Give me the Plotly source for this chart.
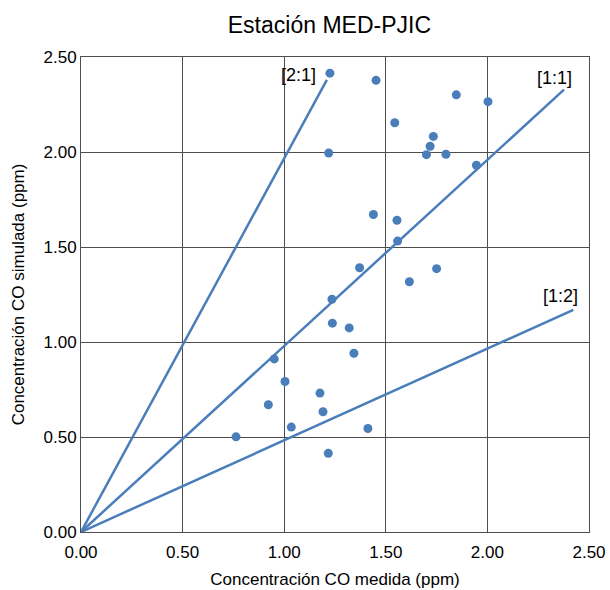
import plotly.graph_objects as go

# Measured vs simulated CO (ppm)
medida = [1.225, 1.452, 1.847, 2.003, 1.544, 1.734, 1.718, 1.700, 1.796, 1.219,
          1.946, 1.439, 1.555, 1.558, 1.371, 1.750, 1.616, 1.235, 1.237, 1.320,
          1.343, 0.951, 1.004, 1.176, 0.922, 1.191, 1.035, 1.412, 0.763, 1.217]
simulada = [2.415, 2.377, 2.301, 2.265, 2.154, 2.082, 2.030, 1.986, 1.988, 1.995,
            1.930, 1.671, 1.641, 1.531, 1.391, 1.386, 1.317, 1.225, 1.099, 1.074,
            0.941, 0.911, 0.792, 0.731, 0.670, 0.633, 0.552, 0.545, 0.501, 0.414]

# Reference lines
line_2_1_x = [0.0, 1.21]
line_2_1_y = [0.0, 2.38]
line_1_1_x = [0.0, 2.377]
line_1_1_y = [0.0, 2.328]
line_1_2_x = [0.0, 2.423]
line_1_2_y = [0.0, 1.169]

label_text = ["[2:1]", "[1:1]", "[1:2]"]
label_x = [1.07, 2.33, 2.36]
label_y = [2.40, 2.38, 1.235]

tick_vals = [0, 0.5, 1.0, 1.5, 2.0, 2.5]
tick_text = ["0.00", "0.50", "1.00", "1.50", "2.00", "2.50"]

BLUE = "#4A7EBB"
FONT = "Liberation Sans, Arial, sans-serif"

fig = go.Figure()
for lx, ly in [(line_2_1_x, line_2_1_y), (line_1_1_x, line_1_1_y), (line_1_2_x, line_1_2_y)]:
    fig.add_trace(go.Scatter(x=lx, y=ly, mode="lines",
                             line=dict(color=BLUE, width=2.5), hoverinfo="skip"))

fig.add_trace(go.Scatter(x=medida, y=simulada, mode="markers",
                         marker=dict(color=BLUE, size=9, line=dict(width=0))))

fig.add_trace(go.Scatter(x=label_x, y=label_y, mode="text", text=label_text,
                         textposition="middle center",
                         textfont=dict(family=FONT, size=18, color="#000000")))

axis_common = dict(
    range=[0, 2.5], tickvals=tick_vals, ticktext=tick_text,
    showgrid=True, gridcolor="#4d4d4d", gridwidth=1,
    showline=True, linecolor="#4d4d4d", linewidth=1, mirror=True,
    zeroline=False, automargin=False,
    tickfont=dict(family=FONT, size=17, color="#000000"),
)

fig.update_layout(
    width=610, height=590,
    margin=dict(l=81, r=21, t=57, b=58),
    paper_bgcolor="white", plot_bgcolor="white",
    showlegend=False,
    title=dict(text="Estación MED-PJIC", x=0.54, xanchor="center", y=0.958, yanchor="middle",
               font=dict(family=FONT, size=23, color="#000000")),
    xaxis=dict(axis_common, ticks="outside", ticklen=5, tickcolor="rgba(0,0,0,0)",
               title=dict(text="Concentración CO medida (ppm)", standoff=11,
                          font=dict(family=FONT, size=17, color="#000000"))),
    yaxis=dict(axis_common, ticks="",
               title=dict(text="Concentración CO simulada (ppm)", standoff=14,
                          font=dict(family=FONT, size=17, color="#000000"))),
)

fig.write_html("out.html")
